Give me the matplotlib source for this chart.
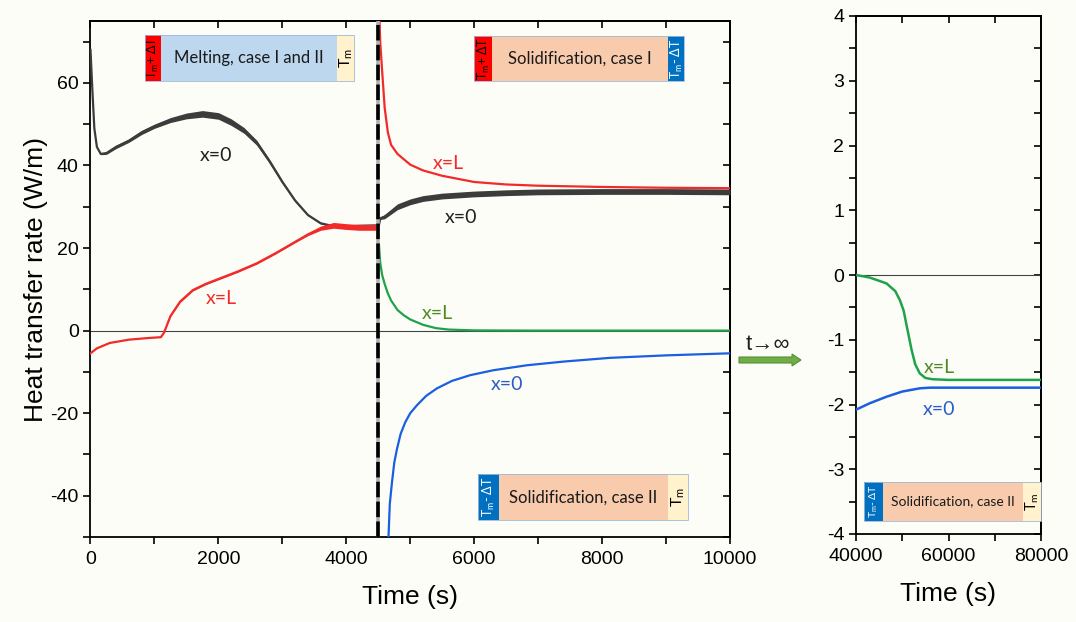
import matplotlib
matplotlib.use('Agg')
import matplotlib.pyplot as plt
from matplotlib.patches import Rectangle, FancyArrow
from matplotlib.ticker import MultipleLocator
from matplotlib.transforms import Affine2D
import numpy as np

plt.rcParams['font.family'] = ['Liberation Sans', 'DejaVu Sans']
plt.rcParams['mathtext.default'] = 'regular'
plt.rcParams['axes.unicode_minus'] = False

# ---------------- data ----------------
# Melting (case I and II), x=0
t_melt_x0 = [0, 30, 60, 100, 160, 250, 400, 600, 800, 1000, 1250, 1500, 1750, 2000,
             2200, 2400, 2600, 2800, 3000, 3200, 3400, 3600, 3800, 4000, 4200, 4500]
q_melt_x0 = [68, 58, 49, 44.5, 42.8, 43, 44.5, 46, 48, 49.5, 51, 52, 52.5, 52,
             50.5, 48.5, 45.5, 41, 36, 31.5, 28, 26, 25.3, 25.2, 25.4, 25.5]
n_melt_x0 = [0, 0, 0, 0, 0.2, 0.3, 0.4, 0.4, 0.5, 0.5, 0.6, 0.7, 0.8, 0.8,
             0.8, 0.7, 0.6, 0.5, 0.4, 0.3, 0.2, 0.2, 0.2, 0.2, 0.2, 0.2]

# Melting, x=L
t_melt_xL = [0, 100, 300, 600, 900, 1100, 1150, 1250, 1400, 1600, 1800, 2000, 2300,
             2600, 2900, 3200, 3400, 3600, 3800, 4000, 4200, 4500]
q_melt_xL = [-5.5, -4.3, -3, -2.2, -1.8, -1.6, -0.5, 3.5, 7, 9.8, 11.3, 12.5, 14.3,
             16.3, 18.8, 21.5, 23.3, 24.8, 25.5, 25.2, 25.0, 25.0]
n_melt_xL = [0, 0, 0, 0, 0, 0, 0, 0.1, 0.2, 0.2, 0.2, 0.2, 0.2,
             0.2, 0.2, 0.2, 0.3, 0.5, 0.7, 0.7, 0.7, 0.7]

# Solidification case I, x=0
t_s1_x0 = [4510, 4530, 4600, 4700, 4800, 5000, 5200, 5500, 6000, 6500, 7000, 8000, 9000, 10000]
q_s1_x0 = [25.5, 27.2, 27.6, 28.8, 30.0, 31.2, 32.0, 32.6, 33.1, 33.4, 33.6, 33.7, 33.7, 33.6]
n_s1_x0 = [0, 0.3, 0.5, 0.6, 0.7, 0.7, 0.7, 0.7, 0.7, 0.7, 0.7, 0.7, 0.7, 0.7]

# Solidification case I, x=L
t_s1_xL = [4510, 4530, 4560, 4600, 4650, 4700, 4800, 5000, 5200, 5500, 6000, 6500, 7000, 8000, 9000, 10000]
q_s1_xL = [80, 70, 63, 54, 48, 45, 42.8, 40.2, 38.8, 37.5, 36.0, 35.4, 35.1, 34.8, 34.6, 34.5]

# Solidification case II, x=L
t_s2_xL = [4510, 4530, 4560, 4600, 4650, 4700, 4800, 4900, 5000, 5200, 5400, 5600, 6000, 7000, 10000]
q_s2_xL = [21, 16.5, 13.5, 11.3, 9, 7.3, 5, 3.7, 2.7, 1.4, 0.6, 0.25, 0.05, 0, 0]

# Solidification case II, x=0
t_s2_x0 = [4655, 4680, 4714, 4750, 4792, 4850, 4922, 5000, 5104, 5250, 5417, 5650, 5937,
           6300, 6823, 7400, 8125, 9000, 10000]
q_s2_x0 = [-52, -42, -36.8, -32, -28.7, -25, -22.2, -20, -18.1, -15.8, -14, -12.2, -10.8,
           -9.6, -8.4, -7.5, -6.6, -6.0, -5.5]

# Long time (t -> infinity), case II
t_inf_xL = [40000, 43000, 46600, 48500, 49500, 50300, 51000, 52000, 52800, 53800, 55000, 56500,
            60000, 70000, 80000]
q_inf_xL = [0, -0.04, -0.13, -0.25, -0.39, -0.55, -0.8, -1.15, -1.38, -1.52, -1.59, -1.61,
            -1.62, -1.62, -1.62]
t_inf_x0 = [40000, 43000, 46600, 50000, 53800, 56000, 60000, 70000, 80000]
q_inf_x0 = [-2.08, -1.98, -1.88, -1.8, -1.75, -1.74, -1.74, -1.74, -1.74]

t_switch = 4500

# ---------------- style ----------------
BG = '#fdfdf8'
C_BLACK = '#3c3c3c'
C_RED = '#f22a2a'
C_GREEN = '#1fa34a'
C_BLUE = '#1a5fe0'
C_GLABEL = '#4f8a24'
C_BLABEL = '#2a5cc8'
C_RSTRIP = '#ff0000'
C_LBLUE = '#bdd7ee'
C_PEACH = '#f8cbad'
C_YELLOW = '#fff2cc'
C_BSTRIP = '#0070c0'

W, H = 1076, 622
fig = plt.figure(figsize=(W / 100, H / 100), dpi=100, facecolor=BG)
PX = Affine2D().scale(0.01) + fig.dpi_scale_trans  # pixel coords from bottom-left


def fr(x0, y0, x1, y1):
    return [x0 / W, 1 - y1 / H, (x1 - x0) / W, (y1 - y0) / H]


ax1 = fig.add_axes(fr(90.5, 21, 730, 537), facecolor=BG)
ax2 = fig.add_axes(fr(856, 16, 1041, 534), facecolor=BG)

for ax in (ax1, ax2):
    for s in ax.spines.values():
        s.set_linewidth(1.3)
    ax.tick_params(which='both', direction='out', length=5, width=1.2, labelsize=14,
                   top=False, right=False)
    ax.tick_params(axis='x', pad=5)
    ax.axhline(0, color='#444444', lw=0.8, zorder=1)


def mirror(ax, xmaj, xmin, ymaj, ymin):
    top = ax.secondary_xaxis('top')
    top.xaxis.set_major_locator(MultipleLocator(xmaj))
    top.xaxis.set_minor_locator(MultipleLocator(xmin))
    top.tick_params(which='both', direction='in', length=5, width=1.2, labeltop=False)
    top.spines['top'].set_linewidth(1.3)
    right = ax.secondary_yaxis('right')
    right.yaxis.set_major_locator(MultipleLocator(ymaj))
    right.yaxis.set_minor_locator(MultipleLocator(ymin))
    right.tick_params(which='both', direction='in', length=5, width=1.2, labelright=False)
    right.spines['right'].set_linewidth(1.3)


# ---------- left panel ----------
a = np.array
ax1.fill_between(t_melt_x0, a(q_melt_x0) - a(n_melt_x0), a(q_melt_x0) + a(n_melt_x0),
                 color=C_BLACK, lw=0, zorder=3)
ax1.plot(t_melt_x0, q_melt_x0, color=C_BLACK, lw=1.6, zorder=3)
ax1.fill_between(t_melt_xL, a(q_melt_xL) - a(n_melt_xL), a(q_melt_xL) + a(n_melt_xL),
                 color=C_RED, lw=0, zorder=3)
ax1.plot(t_melt_xL, q_melt_xL, color=C_RED, lw=1.6, zorder=3)
ax1.fill_between(t_s1_x0, a(q_s1_x0) - a(n_s1_x0), a(q_s1_x0) + a(n_s1_x0),
                 color=C_BLACK, lw=0, zorder=3)
ax1.plot(t_s1_x0, q_s1_x0, color=C_BLACK, lw=1.6, zorder=3)
ax1.plot(t_s1_xL, q_s1_xL, color=C_RED, lw=1.6, zorder=3)
ax1.plot(t_s2_xL, q_s2_xL, color=C_GREEN, lw=1.6, zorder=3)
ax1.plot(t_s2_x0, q_s2_x0, color=C_BLUE, lw=1.6, zorder=3)

ax1.axvline(t_switch, color='#b0b0b0', lw=2.6, zorder=4)
ax1.axvline(t_switch, color='black', lw=2.6, dashes=(4.3, 1.2), zorder=5)

ax1.set_xlim(0, 10000)
ax1.set_ylim(-50, 75)
ax1.xaxis.set_major_locator(MultipleLocator(2000))
ax1.xaxis.set_minor_locator(MultipleLocator(1000))
ax1.yaxis.set_major_locator(MultipleLocator(20))
ax1.yaxis.set_minor_locator(MultipleLocator(10))
mirror(ax1, 2000, 1000, 20, 10)
ax1.set_xlabel('Time (s)', fontsize=19, labelpad=12)
ax1.set_ylabel('Heat transfer rate (W/m)', fontsize=19, labelpad=2)

lab = dict(fontsize=14, family=['Lato', 'DejaVu Sans'], ha='center', va='center', zorder=6)
ax1.text(1960, 42.5, 'x=0', color='#202020', **lab)
ax1.text(2040, 7.8, 'x=L', color=C_RED, **lab)
ax1.text(5600, 40.5, 'x=L', color=C_RED, **lab)
ax1.text(5790, 27.3, 'x=0', color='#202020', **lab)
ax1.text(5420, 4.2, 'x=L', color=C_GLABEL, **lab)
ax1.text(6510, -13, 'x=0', color=C_BLABEL, **lab)

# ---------- right panel ----------
ax2.plot(t_inf_xL, q_inf_xL, color=C_GREEN, lw=1.8, zorder=3)
ax2.plot(t_inf_x0, q_inf_x0, color=C_BLUE, lw=1.8, zorder=3)
ax2.set_xlim(40000, 80000)
ax2.set_ylim(-4, 4)
ax2.xaxis.set_major_locator(MultipleLocator(20000))
ax2.xaxis.set_minor_locator(MultipleLocator(10000))
ax2.yaxis.set_major_locator(MultipleLocator(1))
ax2.yaxis.set_minor_locator(MultipleLocator(0.5))
mirror(ax2, 20000, 10000, 1, 0.5)
ax2.set_xlabel('Time (s)', fontsize=19, labelpad=12)
ax2.text(58000, -1.43, 'x=L', color=C_GLABEL, **lab)
ax2.text(58000, -2.07, 'x=0', color=C_BLABEL, **lab)


# ---------- condition boxes ----------
def box(y0, y1, segs, fs, sfs, tfs):
    for (x0, x1, col, txt, tcol, rot) in segs:
        fig.add_artist(Rectangle((x0, H - y1), x1 - x0, y1 - y0, transform=PX,
                                 facecolor=col, edgecolor='none', zorder=10))
        if txt:
            if rot == 0:
                size = fs
            elif 'Δ' in txt:
                size = sfs
            else:
                size = tfs
            fig.text((x0 + x1) / 2 + (0.5 if rot else 0), H - (y0 + y1) / 2, txt,
                     transform=PX, rotation=rot,
                     color=tcol, fontsize=size, ha='center', va='center',
                     family=['Lato', 'DejaVu Sans'], zorder=11)
    fig.add_artist(Rectangle((segs[0][0], H - y1), segs[-1][1] - segs[0][0], y1 - y0,
                             transform=PX, facecolor='none', edgecolor='#9fb8d8',
                             lw=0.6, zorder=12))


TP = 'T$_m$+ ΔT'
TM = 'T$_m$- ΔT'
TMM = 'T$_m$'
box(35, 80.7, [(145, 160.7, C_RSTRIP, TP, 'black', 90),
               (160.7, 337.3, C_LBLUE, 'Melting, case I and II', '#1a1a1a', 0),
               (337.3, 354, C_YELLOW, TMM, 'black', 90)], 12, 9, 11.5)
box(36, 81, [(474, 492.3, C_RSTRIP, TP, 'black', 90),
             (492.3, 668.3, C_PEACH, 'Solidification, case I', '#1a1a1a', 0),
             (668.3, 684, C_BSTRIP, TM, 'white', 90)], 12, 9, 11.5)
box(474.3, 520, [(478.3, 499.3, C_BSTRIP, TM, 'white', 90),
                 (499.3, 667.5, C_PEACH, 'Solidification, case II', '#1a1a1a', 0),
                 (667.5, 688.3, C_YELLOW, TMM, 'black', 90)], 12, 9, 11.5)
box(482.3, 520.7, [(864.3, 882.7, C_BSTRIP, TM, 'white', 90),
                   (882.7, 1022.7, C_PEACH, 'Solidification, case II', '#1a1a1a', 0),
                   (1022.7, 1041, C_YELLOW, TMM, 'black', 90)], 10, 7.5, 10.5)

# ---------- t -> infinity arrow ----------
fig.text(768, H - 345, 't→∞', transform=PX, fontsize=16, ha='center', va='center',
         color='#202020')
fig.add_artist(FancyArrow(739, H - 360, 62, 0, width=6, head_width=12, head_length=9,
                          length_includes_head=True, transform=PX,
                          facecolor='#70ad47', edgecolor='#5a8f3a', lw=0.8, zorder=10))

fig.savefig('out.png', dpi=100, facecolor=BG)
